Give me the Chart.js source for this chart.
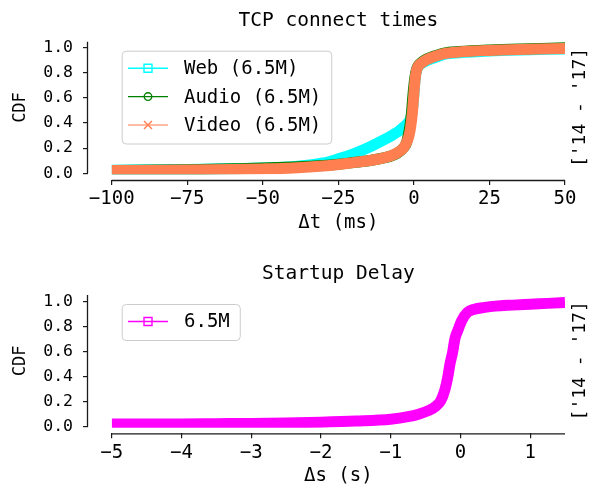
<!DOCTYPE html>
<html>
<head>
<meta charset="utf-8">
<script src="https://cdn.jsdelivr.net/npm/chart.js@4.4.0/dist/chart.umd.min.js"></script>
<style>
  html, body { margin: 0; padding: 0; background: #fff; }
  canvas { display: block; }
</style>
</head>
<body>
<canvas id="tcpChart" width="595" height="246"></canvas>
<canvas id="startupChart" width="595" height="247"></canvas>
<script>
// values
const periodLabel = "['14 - '17]";

const tcpXTicks = [-100, -75, -50, -25, 0, 25, 50];
const startupXTicks = [-5, -4, -3, -2, -1, 0, 1];
const cdfTicks = [0, 0.2, 0.4, 0.6, 0.8, 1.0];

const webX = [-100, -75, -60, -50, -40, -30, -25, -20, -15, -10, -7, -5, -3, -2, -1.2, -0.5, -0.1, 0.3, 0.7, 1.3, 2.5, 4, 6, 10, 15, 25, 35, 50];
const webY = [0.025, 0.03, 0.036, 0.042, 0.052, 0.082, 0.115, 0.155, 0.205, 0.265, 0.305, 0.335, 0.375, 0.4, 0.43, 0.5, 0.6, 0.72, 0.8, 0.843, 0.87, 0.892, 0.91, 0.944, 0.957, 0.971, 0.979, 0.987];

const audioX = [-100, -75, -60, -50, -40, -30, -25, -20, -15, -10, -7, -5, -3.5, -2.5, -1.9, -1.3, -0.8, -0.4, 0.1, 0.6, 1.3, 2.5, 4, 6, 10, 15, 25, 35, 50];
const audioY = [0.022, 0.028, 0.036, 0.042, 0.05, 0.062, 0.072, 0.086, 0.1, 0.122, 0.143, 0.168, 0.2, 0.24, 0.3, 0.38, 0.48, 0.6, 0.72, 0.8, 0.85, 0.88, 0.905, 0.925, 0.955, 0.967, 0.98, 0.988, 0.996];

const videoX = [-100, -75, -60, -50, -40, -30, -25, -20, -15, -10, -7, -5, -3.5, -2.5, -1.6, -1, -0.5, -0.1, 0.3, 0.7, 1.3, 2.5, 4, 6, 10, 15, 25, 35, 50];
const videoY = [0.022, 0.026, 0.03, 0.035, 0.043, 0.058, 0.07, 0.085, 0.1, 0.123, 0.145, 0.17, 0.2, 0.24, 0.3, 0.38, 0.48, 0.6, 0.72, 0.8, 0.845, 0.875, 0.9, 0.92, 0.95, 0.963, 0.976, 0.984, 0.992];

const startupX = [-5, -4, -3.5, -3, -2.5, -2, -1.5, -1, -0.75, -0.6, -0.45, -0.35, -0.28, -0.22, -0.18, -0.15, -0.11, -0.08, -0.03, 0.02, 0.1, 0.2, 0.35, 0.5, 0.75, 1, 1.25, 1.5];
const startupY = [0.021, 0.022, 0.024, 0.026, 0.03, 0.036, 0.045, 0.06, 0.08, 0.1, 0.13, 0.165, 0.21, 0.3, 0.4, 0.5, 0.6, 0.7, 0.78, 0.85, 0.915, 0.94, 0.955, 0.965, 0.973, 0.98, 0.987, 0.994];

const ink = '#000000';
const spine = '#1a1a1a';
const mono = '"DejaVu Sans Mono", monospace';

function points(xs, ys) {
  return xs.map((x, i) => ({ x: x, y: ys[i] }));
}

function band(xs, ys, color, order) {
  return {
    data: points(xs, ys),
    borderColor: color,
    borderWidth: 11,
    borderJoinStyle: 'round',
    pointRadius: 0,
    cubicInterpolationMode: 'monotone',
    fill: false,
    order: order
  };
}

function drawMarker(ctx, kind, x, y, color) {
  ctx.strokeStyle = color;
  ctx.lineWidth = 1.4;
  ctx.beginPath();
  if (kind === 'square') {
    ctx.rect(x - 4, y - 4, 8, 8);
  } else if (kind === 'circle') {
    ctx.arc(x, y, 3.8, 0, Math.PI * 2);
  } else {
    ctx.moveTo(x - 4, y - 4); ctx.lineTo(x + 4, y + 4);
    ctx.moveTo(x - 4, y + 4); ctx.lineTo(x + 4, y - 4);
  }
  ctx.stroke();
}

function drawLegend(ctx, left, top, entries) {
  ctx.font = '19px ' + mono;
  let maxW = 0;
  entries.forEach(e => { maxW = Math.max(maxW, ctx.measureText(e.label).width); });
  const w = 62.3 + maxW + 10;
  const h = 17.5 + 28.4 * (entries.length - 1) + 18.5;
  ctx.fillStyle = 'rgba(255,255,255,0.85)';
  ctx.strokeStyle = '#cccccc';
  ctx.lineWidth = 1;
  ctx.beginPath();
  ctx.roundRect(left + 0.5, top + 0.5, w, h, 4);
  ctx.fill();
  ctx.stroke();
  entries.forEach((e, i) => {
    const cy = top + 17.5 + i * 28.4;
    ctx.strokeStyle = e.color;
    ctx.globalAlpha = e.lineAlpha || 1;
    ctx.lineWidth = 1.4;
    ctx.beginPath();
    ctx.moveTo(left + 6.3, cy);
    ctx.lineTo(left + 46.3, cy);
    ctx.stroke();
    ctx.globalAlpha = 1;
    drawMarker(ctx, e.marker, left + 26.3, cy, e.color);
    ctx.fillStyle = ink;
    ctx.textAlign = 'left';
    ctx.textBaseline = 'middle';
    ctx.font = '19px ' + mono;
    ctx.fillText(e.label, left + 62.3, cy + 1);
  });
}

function rotText(ctx, text, x, y, size) {
  ctx.save();
  ctx.translate(x, y);
  ctx.rotate(-Math.PI / 2);
  ctx.font = size + ' ' + mono;
  ctx.textAlign = 'center';
  ctx.textBaseline = 'middle';
  ctx.fillStyle = ink;
  ctx.fillText(text, 0, 0);
  ctx.restore();
}

function makeDeco(cfg) {
  return {
    id: 'deco',
    beforeDatasetsDraw(chart) {
      const { ctx, chartArea, scales } = chart;
      const left = scales.x.getPixelForValue(cfg.xStart);
      const bottom = scales.y.getPixelForValue(0);
      ctx.save();
      ctx.beginPath();
      ctx.rect(left, chartArea.top, chartArea.right - left, bottom - chartArea.top + 1);
      ctx.clip();
    },
    afterDatasetsDraw(chart) {
      chart.ctx.restore();
    },
    afterDraw(chart) {
      const { ctx, chartArea, scales } = chart;
      const x0 = scales.x.getPixelForValue(cfg.xStart);
      const x1 = chartArea.right;
      const y0 = scales.y.getPixelForValue(0);
      const y1 = chartArea.top;
      ctx.save();
      // detached spines
      ctx.strokeStyle = spine;
      ctx.lineWidth = 1.3;
      ctx.beginPath();
      ctx.moveTo(chartArea.left - 0.5, y0);
      ctx.lineTo(chartArea.left - 0.5, y1);
      ctx.moveTo(x0, chartArea.bottom + 0.5);
      ctx.lineTo(x1, chartArea.bottom + 0.5);
      ctx.stroke();

      const midX = (x0 + x1) / 2;
      const midY = (y0 + y1) / 2;
      ctx.fillStyle = ink;
      ctx.textAlign = 'center';
      ctx.textBaseline = 'alphabetic';
      ctx.font = '19.5px ' + mono;
      ctx.fillText(cfg.title, midX, y1 - 16);
      ctx.font = '19px ' + mono;
      ctx.textBaseline = 'middle';
      ctx.fillText(cfg.xLabel, midX, chartArea.bottom + 43);
      rotText(ctx, 'CDF', 21, midY, '17px');
      rotText(ctx, periodLabel, x1 + 15, midY, '18px');

      drawLegend(ctx, x0 + 10, y1 + 9, cfg.legend);
      ctx.restore();
    }
  };
}

function makeChart(id, cfg) {
  const minus = v => String(v).replace('-', '\u2212');
  return new Chart(document.getElementById(id), {
    type: 'line',
    data: { datasets: cfg.datasets },
    options: {
      responsive: false,
      animation: false,
      devicePixelRatio: 1,
      events: [],
      layout: { padding: cfg.padding },
      plugins: { legend: { display: false }, tooltip: { enabled: false }, title: { display: false } },
      scales: {
        x: {
          type: 'linear',
          min: cfg.xMin,
          max: cfg.xMax,
          afterBuildTicks: s => { s.ticks = cfg.xTicks.map(v => ({ value: v })); },
          afterFit: s => { s.height = 55; },
          border: { display: false },
          grid: { drawOnChartArea: false, drawTicks: true, tickLength: 5, color: spine, lineWidth: 1.2 },
          ticks: {
            autoSkip: false, maxRotation: 0, padding: 3, color: ink,
            font: { family: mono, size: 19 },
            callback: v => minus(v)
          }
        },
        y: {
          type: 'linear',
          min: cfg.yMin,
          max: cfg.yMax,
          afterBuildTicks: s => { s.ticks = cdfTicks.map(v => ({ value: v })); },
          afterFit: s => { s.width = 88; },
          border: { display: false },
          grid: { drawOnChartArea: false, drawTicks: true, tickLength: 5, color: spine, lineWidth: 1.2 },
          ticks: {
            autoSkip: false, padding: 10, color: ink,
            font: { family: mono, size: 16.5 },
            callback: v => v.toFixed(1)
          }
        }
      }
    },
    plugins: [makeDeco(cfg)]
  });
}

makeChart('tcpChart', {
  title: 'TCP connect times',
  xLabel: '\u0394t (ms)',
  xStart: -100,
  xMin: -107.84, xMax: 50,
  yMin: -0.053, yMax: 1.045,
  xTicks: tcpXTicks,
  padding: { left: 0, right: 30, top: 41.7, bottom: 246 - 180 - 55 },
  datasets: [
    band(webX, webY, '#00ffff', 3),
    band(audioX, audioY, '#008000', 2),
    band(videoX, videoY, '#ff7f50', 1)
  ],
  legend: [
    { label: 'Web (6.5M)', color: '#00ffff', marker: 'square' },
    { label: 'Audio (6.5M)', color: '#008000', marker: 'circle' },
    { label: 'Video (6.5M)', color: '#ff7f50', marker: 'x', lineAlpha: 0.7 }
  ]
});

makeChart('startupChart', {
  title: 'Startup Delay',
  xLabel: '\u0394s (s)',
  xStart: -5,
  xMin: -5.34, xMax: 1.5,
  yMin: -0.053, yMax: 1.054,
  xTicks: startupXTicks,
  padding: { left: 0, right: 30, top: 49, bottom: 247 - 187.3 - 55 },
  datasets: [
    band(startupX, startupY, '#ff00ff', 1)
  ],
  legend: [
    { label: '6.5M', color: '#ff00ff', marker: 'square' }
  ]
});
</script>
</body>
</html>
